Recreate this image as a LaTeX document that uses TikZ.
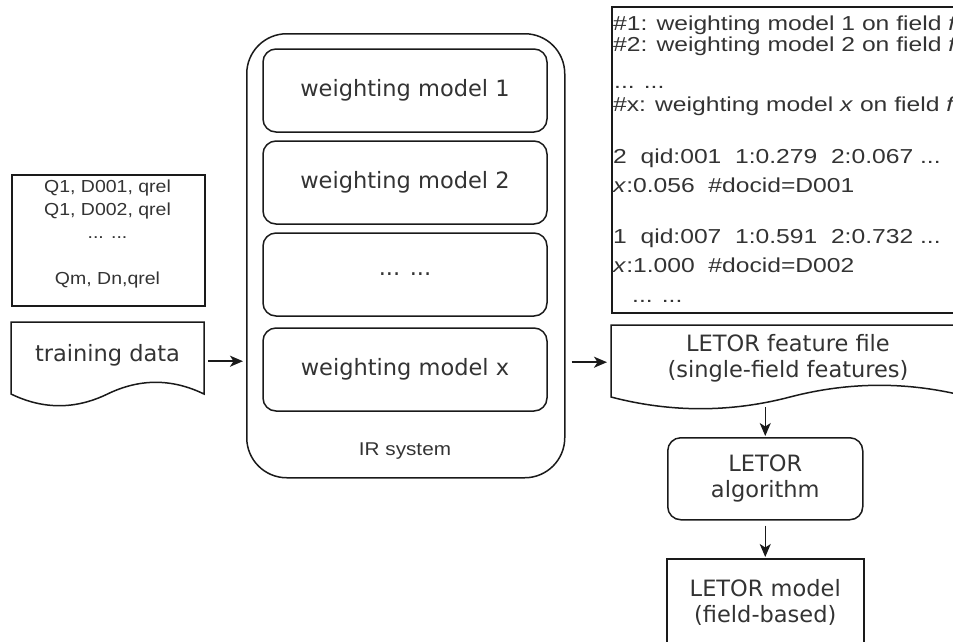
\documentclass[tikz,border=0pt]{standalone}
\usepackage{fontspec}
\setmainfont{DejaVu Sans}
\newfontfamily\arialw[FakeStretch=1.22]{Liberation Sans}
\newfontfamily\arialn[FakeStretch=1.12]{Liberation Sans}
\usetikzlibrary{calc,arrows.meta}
\definecolor{ink}{HTML}{333333}
\definecolor{edge}{HTML}{1A1A1A}
\tikzset{
  frame/.style={inner sep=0pt, anchor=north west},
  outline/.style={draw=edge, line width=1.5pt},
  modelbox/.style={outline, rounded corners=13pt, minimum width=284pt, minimum height=83pt,
    inner sep=0pt, text=ink, font=\fontsize{22.5}{26}\selectfont},
  plain/.style={inner sep=0pt, text=ink},
  vtext/.style={plain, align=center, font=\fontsize{22.5}{26}\selectfont},
  atext/.style={plain, anchor=base west, font=\arialw\fontsize{20.2}{24}\selectfont},
  dtext/.style={plain, anchor=base, font=\arialn\fontsize{17.4}{20}\selectfont},
  flow/.style={draw=edge, line width=1.5pt, -{Stealth[length=13pt,width=11pt,inset=3.5pt]}},
}
% document shape: straight top and sides, wavy bottom edge
\newcommand\docoutline[3]{%
  \begin{scope}[shift={(#1.north west)}]
    \draw[outline] (0,0) -- (#2,0) -- (#2,{#3-13})
      .. controls ({#2*5/6},{#3-28.6}) and ({#2*2/3},{#3-28.6}) .. ({#2/2},{#3-13})
      .. controls ({#2/3},{#3+2.6}) and ({#2/6},{#3+2.6}) .. (0,{#3-13}) -- cycle;
  \end{scope}}
\begin{document}
\begin{tikzpicture}[x=1pt,y=-1pt]
\useasboundingbox (0,0) rectangle (953,641);
\clip (0,0) rectangle (953,641);

% query/document relevance list
\node[frame, outline, minimum width=193pt, minimum height=131pt] (data) at (11,174) {};
\node[dtext] (d1) at (107.5,192) {Q1, D001, qrel};
\node[dtext] (d2) at (107.5,215) {Q1, D002, qrel};
\node[dtext] (d3) at (107.5,238) {... ...};
\node[dtext] (d4) at (107.5,284) {Qm, Dn,qrel};

% training data document
\node[frame, minimum width=193pt, minimum height=85pt] (train) at (11,322) {};
\docoutline{train}{193}{85}
\node[vtext] (trainlbl) at (107.5,355) {training data};

% IR system with its weighting models
\node[frame, outline, rounded corners=40pt, minimum width=318pt, minimum height=444pt] (ir) at (246,33) {};
\node[modelbox] (w1) at (405,90.5) {weighting model 1};
\node[modelbox] (w2) at (405,182.5) {weighting model 2};
\node[modelbox] (w3) at (405,274.5) {... ...};
\node[modelbox] (wx) at (405,369.5) {weighting model x};
\node[plain, font=\arialn\fontsize{18.5}{21}\selectfont] (irlbl) at (405,451) {IR system};

% feature file contents
\node[frame, outline, minimum width=360pt, minimum height=306pt] (txt) at (611,6) {};
\node[atext] (t1) at (613,30) {\#1: weighting model 1 on field \textit{f}};
\node[atext] (t2) at (613,51) {\#2: weighting model 2 on field \textit{f}};
\node[atext] (t3) at (614,88) {... ...};
\node[atext] (t4) at (613,111) {\#x: weighting model \textit{x} on field \textit{f}};
\node[atext] (t5) at (613,163) {2\ \ qid:001\ \ 1:0.279\ \ 2:0.067 ...};
\node[atext] (t6) at (613,192) {\textit{x}:0.056\ \ \#docid=D001};
\node[atext] (t7) at (613,243) {1\ \ qid:007\ \ 1:0.591\ \ 2:0.732 ...};
\node[atext] (t8) at (613,272) {\textit{x}:1.000\ \ \#docid=D002};
\node[atext] (t9) at (632,302) {... ...};

% LETOR feature file document
\node[frame, minimum width=358pt, minimum height=85pt] (feat) at (611,325) {};
\docoutline{feat}{358}{85}
\node[vtext] (featlbl) at (788,358.5) {LETOR feature file\\(single-field features)};

% learning stage
\node[frame, outline, rounded corners=13pt, minimum width=195pt, minimum height=82pt] (alg) at (667,437) {};
\node[vtext] (alglbl) at (alg.center) {LETOR\\algorithm};
\node[frame, outline, minimum width=197pt, minimum height=84pt] (mod) at (666,558) {};
\node[vtext] (modlbl) at ($(mod.center)+(0,2)$) {LETOR model\\(field-based)};

% connectors
\draw[flow] ($(train.east)+(4,-3.5)$) -- ($(train.east -| ir.west)+(-3,-3.5)$);
\draw[flow] ($(ir.east |- feat.west)+(6,-5.5)$) -- ($(feat.west)+(-4,-5.5)$);
\draw[flow] ($(alg.north |- feat.south)+(0,-3)$) -- ($(alg.north)+(0,-1)$);
\draw[flow] ($(alg.south)+(0,5)$) -- ($(mod.north)+(0,-1)$);
\end{tikzpicture}
\end{document}
